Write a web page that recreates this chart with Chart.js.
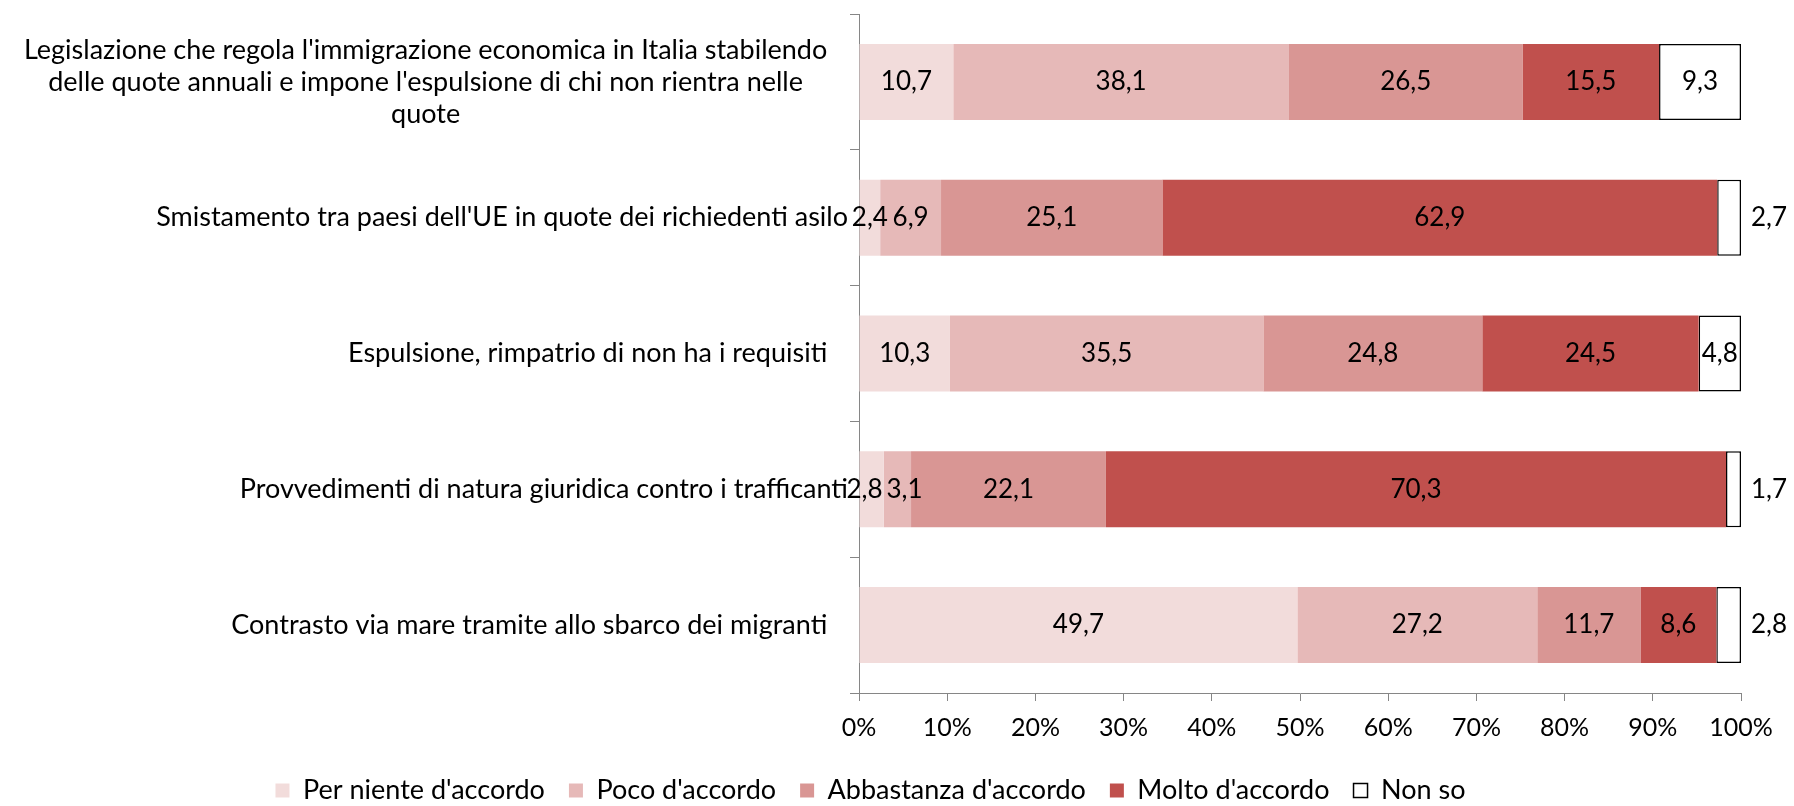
<!DOCTYPE html>
<html>
<head>
<meta charset="utf-8">
<script src="https://cdn.jsdelivr.net/npm/chart.js@4/dist/chart.umd.min.js"></script>
<style>
  html, body { margin: 0; padding: 0; background: #ffffff; }
  #wrap { width: 1794px; height: 806px; position: relative; }
</style>
</head>
<body>
<div id="wrap"><canvas id="c" width="1794" height="806"></canvas></div>
<script>
// ---- Data ----
const categories = [
  ["Legislazione che regola l'immigrazione economica in Italia stabilendo   ",
   "delle quote annuali e impone l'espulsione di chi non rientra nelle   ",
   "quote   "],
  "Smistamento tra paesi dell'UE in quote dei richiedenti asilo",
  "Espulsione, rimpatrio di non ha i requisiti   ",
  "Provvedimenti di natura giuridica contro i trafficanti",
  "Contrasto via mare tramite allo sbarco dei migranti   "
];
const seriesNames = ["Per niente d'accordo", "Poco d'accordo", "Abbastanza d'accordo", "Molto d'accordo", "Non so"];
const perNiente  = [10.7, 2.4, 10.3, 2.8, 49.7];
const poco       = [38.1, 6.9, 35.5, 3.1, 27.2];
const abbastanza = [26.5, 25.1, 24.8, 22.1, 11.7];
const molto      = [15.5, 62.9, 24.5, 70.3, 8.6];
const nonSo      = [9.3, 2.7, 4.8, 1.7, 2.8];
const xTicks = [0, 10, 20, 30, 40, 50, 60, 70, 80, 90, 100];

const seriesValues = [perNiente, poco, abbastanza, molto, nonSo];
const seriesColors = ['#F2DCDB', '#E6B9B8', '#D99694', '#C0504D', '#FFFFFF'];

// 100% stacked: normalise each row
const rowSums = categories.map((_, i) => seriesValues.reduce((s, arr) => s + arr[i], 0));
const FONT = 'Lato, "Open Sans", sans-serif';
const FS = 27;   // category + legend text
const DFS = 26;  // data labels
const TFS = 25;  // x tick labels

const datasets = seriesValues.map((vals, d) => ({
  label: seriesNames[d],
  data: vals.map((v, i) => v / rowSums[i] * 100),
  rawValues: vals,
  backgroundColor: seriesColors[d],
  borderColor: d === 4 ? '#000000' : seriesColors[d],
  borderWidth: d === 4 ? 1.5 : 0,
  borderSkipped: false,
  barPercentage: 0.56,
  categoryPercentage: 1.0
}));

const fmt = v => v.toFixed(1).replace('.', ',');

const valueLabels = {
  id: 'valueLabels',
  afterDatasetsDraw(chart) {
    const ctx = chart.ctx;
    ctx.save();
    ctx.font = DFS + 'px ' + FONT;
    ctx.fillStyle = '#000000';
    ctx.textBaseline = 'middle';
    const nDs = chart.data.datasets.length;
    const nRows = chart.data.labels.length;
    for (let i = 0; i < nRows; i++) {
      const inside = [];
      for (let d = 0; d < nDs; d++) {
        const ds = chart.data.datasets[d];
        const bar = chart.getDatasetMeta(d).data[i];
        const txt = fmt(ds.rawValues[i]);
        const w = ctx.measureText(txt).width;
        const segW = Math.abs(bar.x - bar.base);
        if (d === nDs - 1 && w + 2 > segW) {
          ctx.textAlign = 'left';
          ctx.fillText(txt, bar.x + 10, bar.y);
        } else {
          inside.push({ txt, w, cx: (bar.x + bar.base) / 2, y: bar.y });
        }
      }
      // nudge apart overlapping neighbours
      for (let k = 1; k < inside.length; k++) {
        const a = inside[k - 1], b = inside[k];
        const overlap = (a.cx + a.w / 2 + 4) - (b.cx - b.w / 2);
        if (overlap > 0) { a.cx -= overlap / 2; b.cx += overlap / 2; }
      }
      ctx.textAlign = 'center';
      inside.forEach(l => ctx.fillText(l.txt, l.cx, l.y));
    }
    ctx.restore();
  }
};

const catLabels = {
  id: 'catLabels',
  afterDraw(chart) {
    const ctx = chart.ctx;
    const sc = chart.scales.y;
    const right = sc.right - 9 - 2;
    const lh = 32;
    ctx.save();
    ctx.font = FS + 'px ' + FONT;
    ctx.fillStyle = '#000000';
    ctx.textBaseline = 'middle';
    ctx.textAlign = 'center';
    categories.forEach((lab, i) => {
      const lines = Array.isArray(lab) ? lab : [lab];
      const W = Math.max(...lines.map(l => ctx.measureText(l).width));
      const cx = right - W / 2;
      const cy = sc.getPixelForTick(i);
      const y0 = cy - (lines.length - 1) / 2 * lh;
      lines.forEach((l, k) => {
        ctx.fillText(l, cx, y0 + k * lh);
      });
    });
    ctx.restore();
  }
};

new Chart(document.getElementById('c'), {
  type: 'bar',
  data: { labels: categories.map(c => Array.isArray(c) ? c.join(' ') : c), datasets },
  options: {
    indexAxis: 'y',
    responsive: false,
    animation: false,
    devicePixelRatio: 1,
    layout: { padding: { top: 14, right: 53, left: 0, bottom: -8 } },
    scales: {
      x: {
        stacked: true,
        min: 0, max: 100,
        afterBuildTicks(scale) { scale.ticks = xTicks.map(v => ({ value: v })); },
        afterFit(scale) { scale.height = 60; },
        ticks: {
          callback: v => v + '%',
          color: '#000000',
          font: { family: FONT, size: TFS },
          padding: 12,
          maxRotation: 0
        },
        grid: { drawOnChartArea: false, drawTicks: true, tickLength: 8, color: '#868686' },
        border: { color: '#868686', width: 1 }
      },
      y: {
        stacked: true,
        afterFit(scale) { scale.width = 859; },
        ticks: { display: false },
        grid: { offset: true, drawOnChartArea: false, drawTicks: true, tickLength: 9, color: '#868686' },
        border: { color: '#868686', width: 1 }
      }
    },
    plugins: {
      legend: {
        position: 'bottom',
        labels: {
          color: '#000000',
          font: { family: FONT, size: FS },
          boxWidth: 14,
          boxHeight: 14,
          padding: 24
        }
      },
      tooltip: { enabled: false }
    }
  },
  plugins: [valueLabels, catLabels]
});
</script>
</body>
</html>
